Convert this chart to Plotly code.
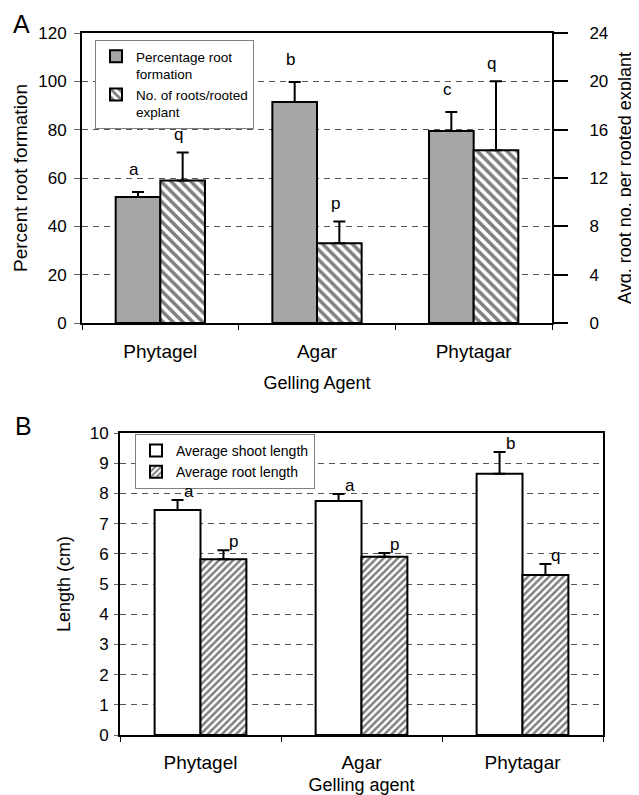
import plotly.graph_objects as go

# ---------------- data ----------------
agents = ["Phytagel", "Agar", "Phytagar"]

# Panel A
pct_root = [52.1, 91.4, 79.4]
pct_root_err = [2.1, 8.3, 7.9]
pct_letters = ["a", "b", "c"]
roots_per_explant = [11.8, 6.6, 14.3]
roots_per_explant_err = [2.3, 1.8, 5.7]
roots_letters = ["q", "p", "q"]

# Panel B
shoot_len = [7.45, 7.75, 8.65]
shoot_err = [0.33, 0.23, 0.72]
shoot_letters = ["a", "a", "b"]
root_len = [5.82, 5.9, 5.3]
root_err = [0.3, 0.13, 0.36]
root_letters = ["p", "p", "q"]

# ---------------- style ----------------
PAGE_W, PAGE_H = 639, 795
OFF = 8  # default page body margin
W, H = PAGE_W - OFF, PAGE_H - OFF
FONT = "Liberation Sans, Arial, sans-serif"
BW = 0.285
GREY = "#a6a6a6"
GRID = "#555555"
DASH = "6px,5px"


def px_x(p):
    """page pixel x -> paper fraction"""
    return (p - OFF) / W


def px_y(p):
    """page pixel y (from top) -> paper fraction"""
    return 1 - (p - OFF) / H


def errs(arr, w):
    return dict(type="data", array=arr, arrayminus=[0] * len(arr), symmetric=False,
                color="black", thickness=2, width=w)


fig = go.Figure()

# ----- Panel A -----
fig.add_trace(go.Bar(
    x=agents, y=pct_root, name="Percentage root<br>formation",
    width=BW, offset=-BW,
    marker=dict(color=GREY, line=dict(color="black", width=2)),
    error_y=errs(pct_root_err, 6),
    xaxis="x", yaxis="y", legend="legend"))
fig.add_trace(go.Bar(
    x=agents, y=roots_per_explant, name="No. of roots/rooted<br>explant",
    width=BW, offset=0,
    marker=dict(color="white", line=dict(color="black", width=2),
                pattern=dict(shape="\\", fgcolor="black", bgcolor="white", size=7, solidity=0.5)),
    error_y=errs(roots_per_explant_err, 6),
    xaxis="x", yaxis="y2", legend="legend"))

# ----- Panel B -----
fig.add_trace(go.Bar(
    x=agents, y=shoot_len, name="Average shoot length",
    width=BW, offset=-BW,
    marker=dict(color="white", line=dict(color="black", width=2)),
    error_y=errs(shoot_err, 6),
    xaxis="x2", yaxis="y3", legend="legend2"))
fig.add_trace(go.Bar(
    x=agents, y=root_len, name="Average root length",
    width=BW, offset=0,
    marker=dict(color="white", line=dict(color="black", width=2),
                pattern=dict(shape="/", fgcolor="black", bgcolor="white", size=5, solidity=0.5)),
    error_y=errs(root_err, 6),
    xaxis="x2", yaxis="y3", legend="legend2"))

letter_font = dict(size=17, family=FONT, color="black")
annotations = []
for i in range(len(agents)):
    annotations.append(dict(x=i - BW / 2, y=pct_root[i] + pct_root_err[i], xref="x", yref="y",
                            text=pct_letters[i], showarrow=False, yshift=23, xshift=-4,
                            font=letter_font))
    annotations.append(dict(x=i + BW / 2, y=roots_per_explant[i] + roots_per_explant_err[i],
                            xref="x", yref="y2", text=roots_letters[i], showarrow=False,
                            yshift=18, xshift=-4, font=letter_font))
    annotations.append(dict(x=i - BW / 2, y=shoot_len[i] + shoot_err[i], xref="x2", yref="y3",
                            text=shoot_letters[i], showarrow=False, xanchor="left", yanchor="bottom",
                            xshift=4, yshift=-3, font=letter_font))
    annotations.append(dict(x=i + BW / 2, y=root_len[i] + root_err[i], xref="x2", yref="y3",
                            text=root_letters[i], showarrow=False, xanchor="left", yanchor="bottom",
                            xshift=4, yshift=-3, font=letter_font))

annotations.append(dict(x=px_x(11), y=px_y(8), xref="paper", yref="paper", text="A",
                        showarrow=False, xanchor="left", yanchor="top",
                        font=dict(size=25, family=FONT, color="black")))
annotations.append(dict(x=px_x(13), y=px_y(410), xref="paper", yref="paper", text="B",
                        showarrow=False, xanchor="left", yanchor="top",
                        font=dict(size=25, family=FONT, color="black")))

xtickfont = dict(size=19, family=FONT, color="black")
ytickfont = dict(size=17, family=FONT, color="black")
titlefont = dict(size=18, family=FONT, color="black")
ytitlefont = dict(size=19, family=FONT, color="black")
legendfont = dict(size=13.5, family=FONT, color="black")

common_x = dict(type="category", showline=True, linecolor="black", linewidth=2, mirror=True,
                ticks="outside", tickson="boundaries", ticklen=5, tickcolor="black", tickwidth=1,
                showgrid=False, zeroline=False, tickfont=xtickfont, automargin=False)

fig.update_layout(
    width=W, height=H,
    margin=dict(l=0, r=0, t=0, b=0),
    paper_bgcolor="white", plot_bgcolor="white",
    barmode="overlay",
    showlegend=True,
    font=dict(family=FONT, color="black"),
    xaxis=dict(domain=[px_x(82), px_x(552)], anchor="y", ticklabelstandoff=10,
               title=dict(text="Gelling Agent", font=titlefont, standoff=16), **common_x),
    yaxis=dict(domain=[px_y(323), px_y(33)], anchor="x", range=[0, 120], dtick=20,
               showline=True, linecolor="black", linewidth=2, ticks="outside", ticklen=6,
               tickcolor="#666666", tickwidth=1, showgrid=True, gridcolor=GRID, gridwidth=1,
               griddash=DASH, zeroline=False, tickfont=ytickfont, ticklabelstandoff=4,
               automargin=False,
               title=dict(text="Percent root formation", font=ytitlefont, standoff=6)),
    yaxis2=dict(overlaying="y", side="right", anchor="x", range=[0, 24], dtick=4,
                showline=True, linecolor="black", linewidth=2, ticks="outside", ticklen=14,
                tickcolor="black", tickwidth=1.5, showgrid=False, zeroline=False,
                tickfont=ytickfont, ticklabelstandoff=18, automargin=False,
                title=dict(text="Avg. root no. per rooted explant",
                           font=dict(size=18, family=FONT, color="black"), standoff=11)),
    xaxis2=dict(domain=[px_x(120), px_x(603)], anchor="y3", ticklabelstandoff=9,
                title=dict(text="Gelling agent", font=titlefont, standoff=7), **common_x),
    yaxis3=dict(domain=[px_y(735), px_y(433)], anchor="x2", range=[0, 10], dtick=1,
                showline=True, linecolor="black", linewidth=2, mirror=True, ticks="outside",
                ticklen=4, tickcolor="#666666", tickwidth=1, showgrid=True, gridcolor=GRID,
                gridwidth=1, griddash=DASH, zeroline=False, tickfont=ytickfont,
                ticklabelstandoff=2, automargin=False,
                title=dict(text="Length (cm)", font=titlefont, standoff=14)),
    legend=dict(x=px_x(95), y=px_y(40), xanchor="left", yanchor="top",
                bordercolor="#808080", borderwidth=1, bgcolor="white",
                font=legendfont, valign="top", itemwidth=30, tracegroupgap=0),
    legend2=dict(x=px_x(135), y=px_y(434), xanchor="left", yanchor="top",
                 bordercolor="#808080", borderwidth=1, bgcolor="white",
                 font=dict(size=14, family=FONT, color="black"), valign="top",
                 itemwidth=30, tracegroupgap=0),
    annotations=annotations,
)

fig.write_html("out.html")
